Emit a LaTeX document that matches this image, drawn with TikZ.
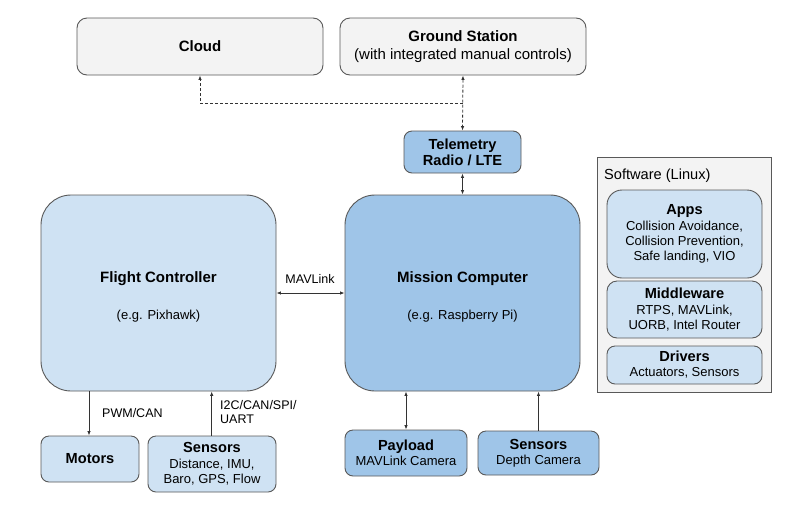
\documentclass[tikz,border=0pt]{standalone}
\usepackage{fontspec}
\setmainfont{Liberation Sans}
\usetikzlibrary{arrows.meta}
\definecolor{grayfill}{HTML}{F3F3F3}
\definecolor{lightblue}{HTML}{CFE2F3}
\definecolor{midblue}{HTML}{9FC5E8}
\definecolor{edgegray}{HTML}{595959}
\definecolor{linedark}{HTML}{333333}
\newcommand{\ttl}[1]{{\fontsize{14.6}{17}\selectfont\bfseries #1}}
\newcommand{\bigtext}[2]{\begin{tabular}{@{}c@{}}\rule{0pt}{20pt}{\fontsize{15}{18}\selectfont\bfseries #1}\\[22pt] #2\end{tabular}}
\tikzset{
  box/.style={draw=edgegray, line width=0.9pt, inner sep=0pt, align=center, text=black,
              font=\fontsize{13}{15}\selectfont},
  graybox/.style={box, fill=grayfill, rounded corners=10pt},
  bigbox/.style={box, rounded corners=30pt, font=\fontsize{13}{15}\selectfont},
  smallbox/.style={box, rounded corners=8pt},
  conn/.style={draw=linedark, line width=0.8pt, arrows={-Latex[length=4.5pt,width=3.5pt]}},
  conn2/.style={draw=linedark, line width=0.8pt, arrows={Latex[length=4.5pt,width=3.5pt]-Latex[length=4.5pt,width=3.5pt]}},
  dashconn/.style={dash pattern=on 3pt off 2pt},
  lbl/.style={inner sep=0pt, text=black, font=\fontsize{12.5}{14}\selectfont}
}
\begin{document}
\begin{tikzpicture}[x=1pt,y=-1pt]
\useasboundingbox[fill=white] (0,0) rectangle (800,504);

% top boxes
\node[graybox, minimum width=246pt, minimum height=57pt] (cloud) at (200,46.5)
  {\fontsize{15}{18}\selectfont\bfseries Cloud};
\node[graybox, minimum width=246pt, minimum height=57pt] (gs) at (463,46.5)
  {{\fontsize{15}{18}\selectfont\bfseries Ground Station}\\[2.5pt]{\fontsize{15}{18}\selectfont (with integrated manual controls)}};

% telemetry
\node[smallbox, fill=midblue, minimum width=117pt, minimum height=42pt] (tel) at (462.5,152)
  {\ttl{Telemetry}\\[1pt] \ttl{Radio / LTE}};

% main computers
\node[bigbox, fill=lightblue, minimum width=235pt, minimum height=196pt] (fc) at (158.5,293)
  {\bigtext{Flight Controller}{(e.g. Pixhawk)}};
\node[bigbox, fill=midblue, minimum width=235pt, minimum height=196pt] (mc) at (462.5,293)
  {\bigtext{Mission Computer}{(e.g. Raspberry Pi)}};

% bottom boxes
\node[smallbox, fill=lightblue, minimum width=98pt, minimum height=46pt] (motors) at (90,459)
  {\ttl{Motors}};
\node[smallbox, fill=lightblue, minimum width=128pt, minimum height=56pt] (sensl) at (212,464)
  {\ttl{Sensors}\\[1pt] Distance, IMU,\\ Baro, GPS, Flow};
\node[smallbox, fill=midblue, minimum width=122pt, minimum height=46pt] (payload) at (406,453)
  {\ttl{Payload}\\[0pt] MAVLink Camera};
\node[smallbox, fill=midblue, minimum width=121pt, minimum height=44pt] (sensr) at (538.5,453)
  {\ttl{Sensors}\\[0pt] Depth Camera};

% software panel
\node[draw=edgegray, line width=0.9pt, fill=grayfill, minimum width=174pt, minimum height=235pt, inner sep=0pt] (sw) at (684,274.5) {};
\node[lbl, anchor=west, font=\fontsize{14.6}{17}\selectfont] (swlbl) at (604,176) {Software (Linux)};
\node[box, fill=lightblue, rounded corners=15pt, minimum width=155pt, minimum height=88pt] (apps) at (684.5,234)
  {\ttl{Apps}\\[1pt] Collision Avoidance,\\ Collision Prevention,\\ Safe landing, VIO};
\node[box, fill=lightblue, rounded corners=10pt, minimum width=155pt, minimum height=57pt] (mid) at (684.5,309.5)
  {\ttl{Middleware}\\[1pt] RTPS, MAVLink,\\ UORB, Intel Router};
\node[box, fill=lightblue, rounded corners=8pt, minimum width=155pt, minimum height=38pt] (drv) at (684.5,365)
  {\ttl{Drivers}\\[0pt] Actuators, Sensors};

% connectors
\coordinate (junc) at (462.7,103.3);
\draw[conn, dashconn] (junc) -| (cloud.south);
\draw[conn2, dashconn] (gs.south) -- (tel.north);
\draw[conn2] (tel.south) -- (mc.north);
\draw[conn2] (fc.east) -- (mc.west);
\node[lbl] (mavlbl) at (310,279) {MAVLink};
\draw[conn] (fc.south -| 89,0) -- (motors.north -| 89,0);
\draw[conn] (sensl.north -| 211.7,0) -- (fc.south -| 211.7,0);
\draw[conn2] (mc.south -| payload.center) -- (payload.north);
\draw[conn] (sensr.north) -- (mc.south -| sensr.north);
\node[lbl, anchor=west] (pwmlbl) at (102,413) {PWM/CAN};
\node[lbl, anchor=north west, align=left, font=\fontsize{12.5}{14}\selectfont] (i2clbl) at (220,400.5) {I2C/CAN/SPI/\\UART};
\end{tikzpicture}
\end{document}
